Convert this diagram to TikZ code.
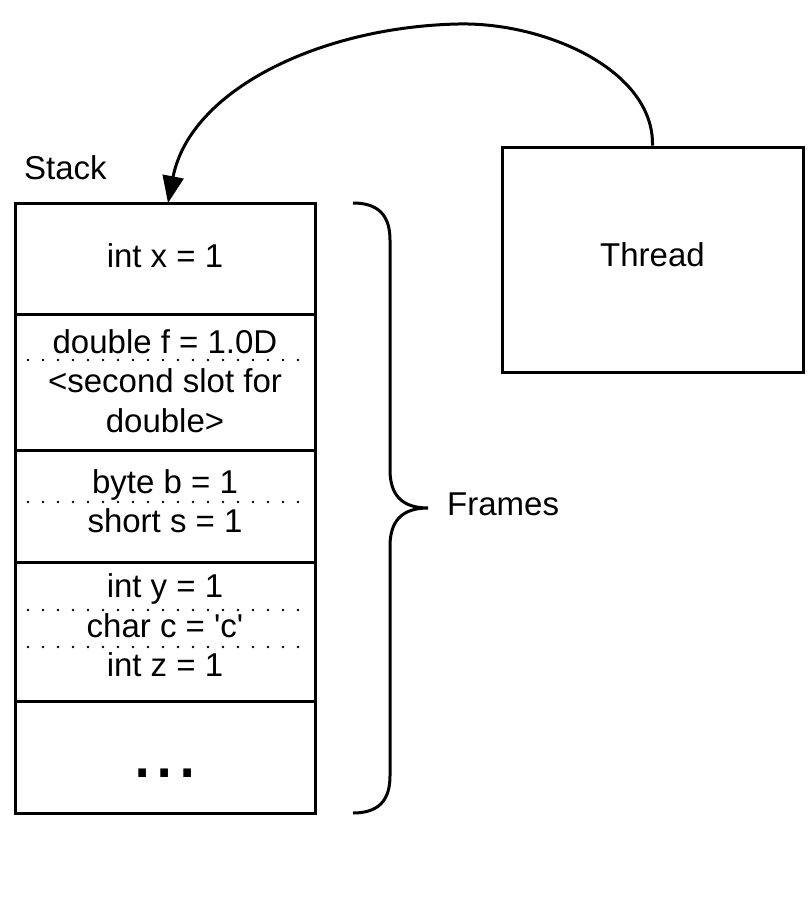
\documentclass[tikz,border=0pt]{standalone}
\usepackage{fontspec}
\setmainfont{Liberation Sans}
\usetikzlibrary{arrows.meta}
\tikzset{
  cell/.style={draw=black, line width=3pt, rectangle, minimum width=300pt, inner sep=0pt},
  box/.style={draw=black, line width=3pt, rectangle, inner sep=0pt},
  txt/.style={inner sep=0pt, anchor=base, font=\fontsize{33}{40}\selectfont},
  dotline/.style={line width=2.8pt, line cap=round, dash pattern=on 0pt off 15pt},
  arrowline/.style={line width=3pt, -{Triangle[length=27pt,width=21pt]}},
  braceline/.style={line width=3pt}
}
\begin{document}
\begin{tikzpicture}[x=1pt,y=-1pt]
\useasboundingbox[fill=white] (0,0) rectangle (809,900);
% stack cells
\node[cell, minimum height=111pt] (c1) at (165,258.5) {};
\node[cell, minimum height=136pt] (c2) at (165,382) {};
\node[cell, minimum height=112pt] (c3) at (165,506) {};
\node[cell, minimum height=139pt] (c4) at (165,631.5) {};
\node[cell, minimum height=112pt] (c5) at (165,757) {};
% texts
\node[txt, anchor=base west] (stack) at (24,179) {Stack};
\node[txt] (t1) at (165,267) {int x = 1};
\node[txt] (t2a) at (165,353) {double f = 1.0D};
\node[txt] (t2b) at (165,392) {<second slot for};
\node[txt] (t2c) at (165,432) {double>};
\node[txt] (t3a) at (165,493) {byte b = 1};
\node[txt] (t3b) at (165,532) {short s = 1};
\node[txt] (t4a) at (165,597) {int y = 1};
\node[txt] (t4b) at (165,637) {char c = \textquotesingle c\textquotesingle};
\node[txt] (t4c) at (165,676) {int z = 1};
\node[inner sep=0pt, anchor=base, font=\fontsize{80}{80}\selectfont] (t5) at (165,777) {...};
% dotted separators
\coordinate (d1l) at (28,360); \coordinate (d1r) at (302,360);
\coordinate (d2l) at (28,502); \coordinate (d2r) at (302,502);
\coordinate (d3l) at (28,610); \coordinate (d3r) at (302,610);
\coordinate (d4l) at (28,647); \coordinate (d4r) at (302,647);
\draw[dotline] (d1l) -- (d1r);
\draw[dotline] (d2l) -- (d2r);
\draw[dotline] (d3l) -- (d3r);
\draw[dotline] (d4l) -- (d4r);
% thread
\node[box, minimum width=301pt, minimum height=225pt] (thread) at (652.5,259.5) {};
\node[txt] (threadlabel) at (652.5,266) {Thread};
% arrow
\coordinate (tip) at (168,203);
\draw[arrowline] (thread.north) .. controls (654,70) and (545,22) .. (458,24)
  .. controls (320,27) and (190,90) .. (tip);
% brace
\coordinate (btop) at (353,203);
\coordinate (btip) at (428,508);
\coordinate (bbot) at (353,813);
\draw[braceline] (btop) .. controls (378,203) and (390,215) .. (390,240) -- (390,470)
  .. controls (390,495) and (402,508) .. (btip)
  .. controls (402,508) and (390,521) .. (390,546) -- (390,776)
  .. controls (390,801) and (378,813) .. (bbot);
\node[txt, anchor=base west] (frames) at (447,515) {Frames};
\end{tikzpicture}
\end{document}
